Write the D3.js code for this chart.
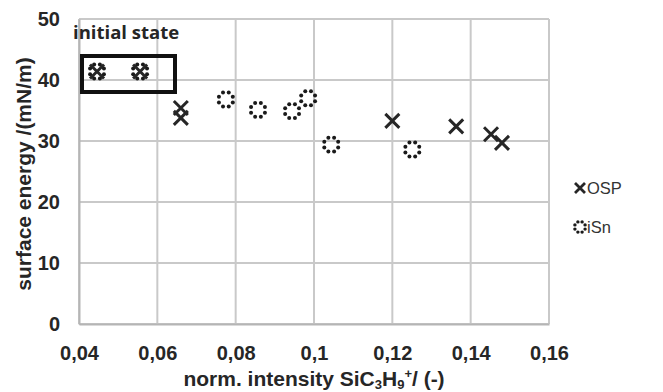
<!DOCTYPE html>
<html>
<head>
<meta charset="utf-8">
<script src="https://cdn.jsdelivr.net/npm/d3@7"></script>
<style>
	body { margin: 0; background: #fff; }
	svg { display: block; font-family: "Liberation Sans", Arial, sans-serif; }
</style>
</head>
<body>
<svg id="chart" width="663" height="392"></svg>
<script>
"use strict";

// values
const xTicks = [0.04, 0.06, 0.08, 0.1, 0.12, 0.14, 0.16];
const yTicks = [0, 10, 20, 30, 40, 50];
const ospX = [0.0446, 0.0556, 0.066, 0.066, 0.120, 0.1363, 0.1452, 0.148];
const ospY = [41.4, 41.4, 35.4, 33.8, 33.3, 32.4, 31.1, 29.7];
const isnX = [0.0446, 0.0556, 0.0775, 0.0857, 0.0944, 0.0985, 0.1044, 0.1251];
const isnY = [41.4, 41.4, 36.8, 35.1, 34.9, 37.0, 29.4, 28.6];
const seriesNames = ['OSP', 'iSn'];

const svg = d3.select('#chart');
const x = d3.scaleLinear().domain([0.04, 0.16]).range([79, 549]);
const y = d3.scaleLinear().domain([0, 50]).range([324, 19]);
const ink = '#262626';
const fmt = (d) => String(d).replace('.', ',');

// grid
const grid = svg.append('g');
grid.selectAll('line.v').data(xTicks).enter().append('line')
	.attr('x1', (d) => x(d)).attr('x2', (d) => x(d))
	.attr('y1', y(50)).attr('y2', y(0))
	.attr('stroke', '#c9c9c9').attr('stroke-width', 2);
grid.selectAll('line.h').data(yTicks).enter().append('line')
	.attr('x1', x(0.04)).attr('x2', x(0.16))
	.attr('y1', (d) => y(d)).attr('y2', (d) => y(d))
	.attr('stroke', '#c9c9c9').attr('stroke-width', 2);

// axes via d3
const xAxis = svg.append('g').attr('transform', `translate(0,${y(0)})`)
	.call(d3.axisBottom(x).tickValues(xTicks).tickFormat(fmt).tickSize(0).tickPadding(22));
const yAxis = svg.append('g').attr('transform', `translate(${x(0.04)},0)`)
	.call(d3.axisLeft(y).tickValues(yTicks).tickSize(0).tickPadding(19));
[xAxis, yAxis].forEach((a) => {
	a.select('.domain').attr('stroke', '#b5b5b5').attr('stroke-width', 2);
	a.selectAll('text').attr('fill', ink).attr('font-size', 20).attr('font-weight', 'bold')
		.attr('font-family', '"Liberation Sans", Arial, sans-serif');
});

// titles
svg.append('text')
	.attr('transform', 'translate(31,174) rotate(-90)')
	.attr('text-anchor', 'middle').attr('fill', ink)
	.attr('font-size', 21).attr('font-weight', 'bold')
	.text('surface energy /(mN/m)');

const xt = svg.append('text')
	.attr('x', 314).attr('y', 386)
	.attr('text-anchor', 'middle').attr('fill', ink)
	.attr('font-size', 21).attr('font-weight', 'bold');
xt.append('tspan').text('norm. intensity SiC');
xt.append('tspan').attr('font-size', 13).attr('dy', 3).text('3');
xt.append('tspan').attr('dy', -3).text('H');
xt.append('tspan').attr('font-size', 13).attr('dy', 3).text('9');
xt.append('tspan').attr('font-size', 13).attr('dy', -11).text('+');
xt.append('tspan').attr('dy', 8).text('/ (-)');

// initial state box
svg.append('rect')
	.attr('x', 82).attr('y', 56).attr('width', 93).attr('height', 36)
	.attr('fill', 'none').attr('stroke', '#111').attr('stroke-width', 4);
svg.append('text')
	.attr('x', 73).attr('y', 39)
	.attr('font-family', '"Open Sans", sans-serif')
	.attr('font-size', 18.5).attr('font-weight', 'bold').attr('fill', ink)
	.text('initial state');

// markers
const drawCross = (g, cx, cy, h, w) => {
	g.append('path')
		.attr('d', `M${cx - h},${cy - h}L${cx + h},${cy + h}M${cx - h},${cy + h}L${cx + h},${cy - h}`)
		.attr('stroke', ink).attr('stroke-width', w).attr('fill', 'none');
};
const drawDots = (g, cx, cy, r, dr) => {
	d3.range(8).forEach((i) => {
		const a = i * Math.PI / 4 + Math.PI / 8;
		g.append('circle')
			.attr('cx', cx + r * Math.cos(a)).attr('cy', cy + r * Math.sin(a))
			.attr('r', dr).attr('fill', '#1a1a1a');
	});
};

const marks = svg.append('g');
ospX.forEach((d, i) => drawCross(marks, x(d), y(ospY[i]), 7, 3));
isnX.forEach((d, i) => drawDots(marks, x(d), y(isnY[i]), 7.5, 2));

// legend
const leg = svg.append('g');
drawCross(leg, 580, 188, 5, 2.8);
drawDots(leg, 580, 227, 5.5, 1.7);
leg.selectAll('text').data(seriesNames).enter().append('text')
	.attr('x', 587).attr('y', (d, i) => 194 + i * 39)
	.attr('font-size', 16.5).attr('fill', '#333')
	.text((d) => d);
</script>
</body>
</html>
